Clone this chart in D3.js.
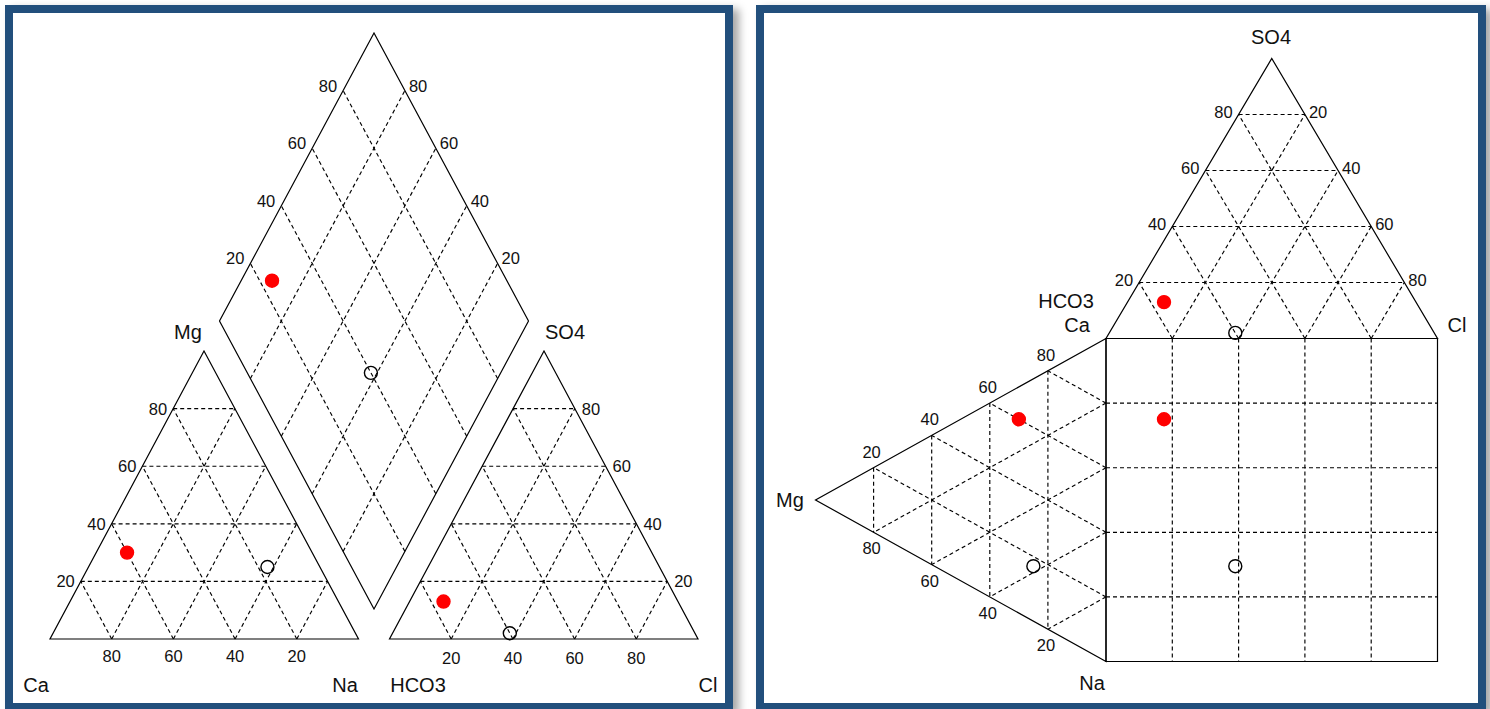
<!DOCTYPE html>
<html>
<head>
<meta charset="utf-8">
<script src="https://cdn.jsdelivr.net/npm/d3@7"></script>
<style>
  html, body { margin: 0; padding: 0; background: #ffffff; }
  svg { display: block; }
  text { font-family: "Liberation Sans", Arial, sans-serif; fill: #111; }
</style>
</head>
<body>
<svg id="chart" width="1490" height="709"></svg>
<script>
// ---- data -------------------------------------------------------------
// cation percentages (meq %)
const caPct  = [60, 17];
const mgPct  = [30, 25];
const naPct  = [10, 58];
// anion percentages (meq %)
const hco3Pct = [76, 60];
const so4Pct  = [13, 2];
const clPct   = [11, 38];
// grid / tick values
const gridTicks = [20, 40, 60, 80];
const cationNames = ["Ca", "Mg", "Na"];
const anionNames  = ["HCO3", "SO4", "Cl"];

// ---- styling -----------------------------------------------------------
const sampleStyle = [
  { fill: "#ff0000", stroke: "#ff0000", r: 6.5 },
  { fill: "none", stroke: "#000", r: 6.5 }
];
const DASH = "4,3";
const FRAME = "#22507c";
const TICK_SIZE = 16.5;

const svg = d3.select("#chart");
const defs = svg.append("defs");
const shadow = defs.append("filter").attr("id", "shadow")
  .attr("x", "-5%").attr("y", "-5%").attr("width", "115%").attr("height", "115%");
shadow.append("feDropShadow").attr("dx", 6).attr("dy", 4)
  .attr("stdDeviation", 4).attr("flood-color", "#000").attr("flood-opacity", 0.35);

// panel frames
function frame(x0, y0, x1, y1) {
  svg.append("rect")
    .attr("x", x0 + 4).attr("y", y0 + 4)
    .attr("width", x1 - x0 - 8).attr("height", y1 - y0 - 8)
    .attr("fill", "#fff").attr("stroke", FRAME).attr("stroke-width", 8)
    .attr("filter", "url(#shadow)");
}
frame(5, 5, 733, 711);
frame(756, 5, 1486, 711);

// ternary mapping built from linear scales: the point of (a,b,c) lies at
// A + b*(B-A) + c*(C-A)
function ternary(A, B, C) {
  const bx = d3.scaleLinear().domain([0, 100]).range([0, B[0] - A[0]]);
  const by = d3.scaleLinear().domain([0, 100]).range([0, B[1] - A[1]]);
  const cx = d3.scaleLinear().domain([0, 100]).range([0, C[0] - A[0]]);
  const cy = d3.scaleLinear().domain([0, 100]).range([0, C[1] - A[1]]);
  return (a, b, c) => [A[0] + bx(b) + cx(c), A[1] + by(b) + cy(c)];
}

function poly(g, pts) {
  g.append("path")
    .attr("d", d3.line()(pts) + "Z")
    .attr("fill", "none").attr("stroke", "#000").attr("stroke-width", 1.2);
}
function dashed(g, p, q) {
  g.append("line")
    .attr("x1", p[0]).attr("y1", p[1]).attr("x2", q[0]).attr("y2", q[1])
    .attr("stroke", "#000").attr("stroke-width", 1.15).attr("stroke-dasharray", DASH);
}
function label(g, txt, x, y, anchor, size) {
  g.append("text").attr("x", x).attr("y", y)
    .attr("text-anchor", anchor || "middle")
    .attr("dominant-baseline", "central")
    .attr("font-size", size || TICK_SIZE)
    .text(txt);
}
// full triangular grid for a ternary mapping
function triGrid(g, T) {
  gridTicks.forEach(k => {
    dashed(g, T(k, 100 - k, 0), T(k, 0, 100 - k));
    dashed(g, T(100 - k, k, 0), T(0, k, 100 - k));
    dashed(g, T(100 - k, 0, k), T(0, 100 - k, k));
  });
}
function dots(g, pts) {
  g.selectAll(null).data(pts).join("circle")
    .attr("cx", d => d[0]).attr("cy", d => d[1])
    .attr("r", (d, i) => sampleStyle[i].r)
    .attr("fill", (d, i) => sampleStyle[i].fill)
    .attr("stroke", (d, i) => sampleStyle[i].stroke)
    .attr("stroke-width", 1.4);
}
const idx = d3.range(caPct.length);

// =======================  Piper diagram (left)  =========================
const piper = svg.append("g");

// cation triangle: Ca (left), Na (right), Mg (top)
const catL = ternary([50, 639], [358.5, 639], [204, 351]);
triGrid(piper, catL);
poly(piper, [catL(100, 0, 0), catL(0, 100, 0), catL(0, 0, 100)]);
gridTicks.forEach(k => {
  const p = catL(100 - k, 0, k);
  label(piper, k, p[0] - 6, p[1], "end");
  const q = catL(k, 100 - k, 0);
  label(piper, k, q[0], q[1] + 17, "middle");
});
label(piper, cationNames[0], 36, 685, "middle", 20);
label(piper, cationNames[2], 345, 685, "middle", 20);
label(piper, cationNames[1], 188, 332, "middle", 20);

// anion triangle: HCO3 (left), Cl (right), SO4 (top)
const anL = ternary([389.5, 639], [698, 639], [544, 351]);
triGrid(piper, anL);
poly(piper, [anL(100, 0, 0), anL(0, 100, 0), anL(0, 0, 100)]);
gridTicks.forEach(k => {
  const p = anL(0, 100 - k, k);
  label(piper, k, p[0] + 7, p[1], "start");
  const q = anL(100 - k, k, 0);
  label(piper, k, q[0], q[1] + 19, "middle");
});
label(piper, anionNames[0], 418, 685, "middle", 20);
label(piper, anionNames[2], 708, 685, "middle", 20);
label(piper, anionNames[1], 565, 332, "middle", 20);

// diamond: bottom + s*(right-bottom) + m*(left-bottom)
// s = SO4+Cl, m = Ca+Mg
const dB = [374, 609], dR = [528.5, 321], dLf = [219.5, 321];
const diam = ternary(dB, dR, dLf);
const D = (s, m) => diam(100 - s - m, s, m);
gridTicks.forEach(k => {
  dashed(piper, D(k, 0), D(k, 100));
  dashed(piper, D(0, k), D(100, k));
  const p = D(k, 100);
  label(piper, k, p[0] - 6, p[1] - 5, "end");
  const q = D(100, k);
  label(piper, k, q[0] + 4, q[1] - 5, "start");
});
poly(piper, [D(0, 0), D(100, 0), D(100, 100), D(0, 100)]);

dots(piper, idx.map(i => catL(caPct[i], naPct[i], mgPct[i])));
dots(piper, idx.map(i => anL(hco3Pct[i], clPct[i], so4Pct[i])));
dots(piper, idx.map(i => D(so4Pct[i] + clPct[i], caPct[i] + mgPct[i])));

// =======================  Durov diagram (right)  ========================
const durov = svg.append("g");
const sqX0 = 1106, sqX1 = 1437.5, sqY0 = 338.5, sqY1 = 661.5;

// anion triangle on top: HCO3 (left), Cl (right), SO4 (apex)
const anR = ternary([sqX0, sqY0], [sqX1, sqY0], [(sqX0 + sqX1) / 2, 58.5]);
triGrid(durov, anR);
poly(durov, [anR(100, 0, 0), anR(0, 100, 0), anR(0, 0, 100)]);
gridTicks.forEach(k => {
  const p = anR(100 - k, 0, k);
  label(durov, k, p[0] - 6, p[1] - 3, "end");
  const q = anR(0, 100 - k, k);
  label(durov, 100 - k, q[0] + 4, q[1] - 3, "start");
});
label(durov, anionNames[1], 1271, 37, "middle", 20);
label(durov, anionNames[0], 1066, 301, "middle", 20);
label(durov, anionNames[2], 1457, 325, "middle", 20);
label(durov, cationNames[0], 1077, 325, "middle", 20);

// cation triangle on the left: Ca (top), Na (bottom), Mg (left apex)
const catR = ternary([sqX0, sqY0], [sqX0, sqY1], [815.5, (sqY0 + sqY1) / 2]);
triGrid(durov, catR);
poly(durov, [catR(100, 0, 0), catR(0, 100, 0), catR(0, 0, 100)]);
gridTicks.forEach(k => {
  const p = catR(k, 0, 100 - k);
  label(durov, k, p[0] - 2, p[1] - 16, "middle");
  const q = catR(0, 100 - k, k);
  label(durov, k, q[0] - 2, q[1] + 16, "middle");
});
label(durov, cationNames[1], 790, 500, "middle", 20);
label(durov, cationNames[2], 1092, 683, "middle", 20);

// central square: x from the anion triangle, y from the cation triangle
const sx = d3.scaleLinear().domain([0, 100]).range([sqX0, sqX1]);
const sy = d3.scaleLinear().domain([0, 100]).range([sqY0, sqY1]);
gridTicks.forEach(k => {
  dashed(durov, [sx(k), sqY0], [sx(k), sqY1]);
  dashed(durov, [sqX0, sy(k)], [sqX1, sy(k)]);
});
poly(durov, [[sqX0, sqY0], [sqX1, sqY0], [sqX1, sqY1], [sqX0, sqY1]]);

dots(durov, idx.map(i => anR(hco3Pct[i], clPct[i], so4Pct[i])));
dots(durov, idx.map(i => catR(caPct[i], naPct[i], mgPct[i])));
dots(durov, idx.map(i => [anR(hco3Pct[i], clPct[i], so4Pct[i])[0],
                          catR(caPct[i], naPct[i], mgPct[i])[1]]));
</script>
</body>
</html>
